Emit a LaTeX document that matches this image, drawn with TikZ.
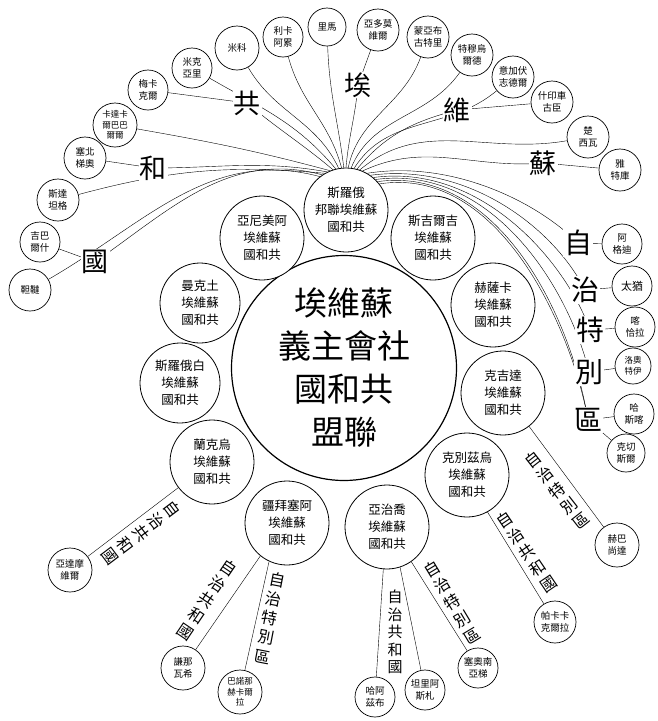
\documentclass[tikz,border=0pt]{standalone}
\usepackage{fontspec}
\newfontfamily\cjk{Noto Sans CJK TC}
\usetikzlibrary{backgrounds}

\begin{document}
\begin{tikzpicture}[x=1pt, y=1pt,
    rep/.style={draw, circle, fill=white, minimum size=84pt, inner sep=0pt, align=center, line width=0.8pt, font=\cjk\fontsize{12.5}{17}\selectfont},
    sub/.style={draw, circle, fill=white, minimum size=42pt, inner sep=0pt, align=center, line width=0.7pt, font=\cjk\fontsize{9.5}{12}\selectfont},
    bigch/.style={fill=white, inner sep=1pt, font=\cjk\fontsize{27}{27}\selectfont},
    lbl/.style={align=center, inner sep=0pt, font=\cjk\fontsize{16}{19.5}\selectfont},
    link/.style={line width=0.5pt}]
    \useasboundingbox (0,0) rectangle (658,-721);

    % centre
    \node[draw, circle, fill=white, minimum size=225pt, line width=1.2pt, align=center, font=\cjk\fontsize{33}{43}\selectfont] (ussr) at (344,-368) {埃維蘇\\義主會社\\國和共\\盟聯};

    % union republics
    \node[rep] (rus) at (346,-210) {斯羅俄\\邦聯埃維蘇\\國和共};
    \node[rep] (kir) at (433,-238) {斯吉爾吉\\埃維蘇\\國和共};
    \node[rep] (kaz) at (493,-305) {赫薩卡\\埃維蘇\\國和共};
    \node[rep] (taj) at (503,-393) {克吉達\\埃維蘇\\國和共};
    \node[rep] (uzb) at (467,-475) {克別茲烏\\埃維蘇\\國和共};
    \node[rep] (geo) at (387,-527) {亞治喬\\埃維蘇\\國和共};
    \node[rep] (aze) at (287,-523) {疆拜塞阿\\埃維蘇\\國和共};
    \node[rep] (ukr) at (212,-462) {蘭克烏\\埃維蘇\\國和共};
    \node[rep, minimum size=80pt] (blr) at (180,-383) {斯羅俄白\\埃維蘇\\國和共};
    \node[rep, minimum size=80pt] (tkm) at (200,-303) {曼克土\\埃維蘇\\國和共};
    \node[rep] (arm) at (262,-238) {亞尼美阿\\埃維蘇\\國和共};

    % big letters of the arc
    \node[bigch] (guo) at (95,-262) {國};
    \node[bigch] (he) at (153,-168) {和};
    \node[bigch] (gong) at (247,-103) {共};
    \node[bigch] (ai) at (358,-85) {埃};
    \node[bigch] (wei) at (457,-110) {維};
    \node[bigch] (su) at (543,-163) {蘇};

    % right column
    \node[bigch, font=\cjk\fontsize{28}{28}\selectfont] (zi) at (578,-243) {自};
    \node[bigch, font=\cjk\fontsize{28}{28}\selectfont] (zhi) at (585,-290) {治};
    \node[bigch, font=\cjk\fontsize{28}{28}\selectfont] (te) at (590,-330) {特};
    \node[bigch, font=\cjk\fontsize{28}{28}\selectfont] (bie) at (589,-372) {別};
    \node[bigch, font=\cjk\fontsize{28}{28}\selectfont] (qu) at (588,-420) {區};

    % arc of small circles
    \node[sub] (t1) at (30,-290) {靼韃};
    \node[sub, minimum size=40pt] (t2) at (40,-242) {吉巴\\爾什};
    \node[sub] (t3) at (58,-200) {斯達\\坦格};
    \node[sub] (t4) at (85,-158) {塞北\\梯奧};
    \node[sub, minimum size=44pt, font=\cjk\fontsize{8.5}{10.5}\selectfont] (t5) at (115,-125) {卡達卡\\爾巴巴\\爾爾};
    \node[sub, minimum size=40pt] (t6) at (148,-90) {梅卡\\克爾};
    \node[sub, minimum size=40pt] (t7) at (192,-68) {米克\\亞里};
    \node[sub, minimum size=44pt] (t8) at (237,-48) {米科};
    \node[sub, minimum size=40pt] (t9) at (283,-37) {利卡\\阿累};
    \node[sub, minimum size=38pt] (t10) at (327,-27) {里馬};
    \node[sub] (t11) at (378,-30) {亞多莫\\維爾};
    \node[sub] (t12) at (428,-37) {蒙亞布\\古特里};
    \node[sub] (t13) at (472,-55) {特穆烏\\爾德};
    \node[sub] (t14) at (513,-77) {意加伏\\志德爾};
    \node[sub] (t15) at (552,-102) {什印車\\古臣};
    \node[sub] (t16) at (588,-137) {楚\\西瓦};
    \node[sub] (t17) at (620,-170) {雅\\特庫};

    % right circles
    \node[sub, minimum size=40pt] (r1) at (622,-244) {阿\\格迪};
    \node[sub, minimum size=40pt, font=\cjk\fontsize{11}{13}\selectfont] (r2) at (632,-286) {太猶};
    \node[sub, minimum size=40pt] (r3) at (635,-327) {喀\\恰拉};
    \node[sub, minimum size=36pt, font=\cjk\fontsize{8.5}{10.5}\selectfont] (r4) at (633,-366) {洛奧\\特伊};
    \node[sub, minimum size=40pt] (r5) at (634,-414) {哈\\斯喀};
    \node[sub, minimum size=38pt] (r6) at (626,-453) {克切\\斯爾};

    % circles below
    \node[sub, minimum size=44pt] (mol) at (70,-570) {亞達摩\\維爾};
    \node[sub, minimum size=40pt] (abk) at (375,-697) {哈阿\\茲布};
    \node[sub, minimum size=40pt] (adj) at (425,-690) {坦里阿\\斯札};
    \node[sub, minimum size=40pt] (sos) at (478,-668) {塞奧南\\亞梯};
    \node[sub, minimum size=44pt] (nak) at (183,-668) {謙那\\瓦希};
    \node[sub, minimum size=44pt, font=\cjk\fontsize{8.5}{10.5}\selectfont] (nk) at (240,-692) {巴諾那\\赫卡爾\\拉};
    \node[sub] (kk) at (555,-622) {帕卡卡\\克爾拉};
    \node[sub, minimum size=44pt] (gb) at (617,-545) {赫巴\\尚達};

    % labels on the branches
    \node[lbl, rotate=-53] (lukr) at (141,-533) {自\\治\\共\\和\\國};
    \node[lbl, rotate=-34] (lnak) at (207,-600) {自\\治\\共\\和\\國};
    \node[lbl, rotate=-11] (lnk) at (270,-618) {自\\治\\特\\別\\區};
    \node[lbl, font=\cjk\fontsize{15}{17.5}\selectfont] (labk) at (395,-632) {自\\治\\共\\和\\國};
    \node[lbl, rotate=31] (lsos) at (452,-602) {自\\治\\特\\別\\區};
    \node[lbl, rotate=34] (lkk) at (527,-552) {自\\治\\共\\和\\國};
    \node[lbl, rotate=38] (lgb) at (557,-490) {自\\治\\特\\別\\區};

    \begin{scope}[on background layer, link]
        % fan from the top
        \draw (rus.128) to[out=165, in=30] (t1);
        \draw (rus.124) to[out=165, in=35] (guo.center) -- (t2);
        \draw (rus.120) to[out=175, in=15] (t3);
        \draw (rus.116) to[out=170, in=0] (he.center) -- (t4);
        \draw (rus.112) to[out=165, in=-10] (t5);
        \draw (rus.108) to[out=140, in=-40] (gong.center) -- (t6);
        \draw (rus.104) to[out=130, in=-30] (t7);
        \draw (rus.100) to[out=115, in=-60] (t8);
        \draw (rus.96) to[out=105, in=-75] (t9);
        \draw (rus.93) to[out=97, in=-88] (t10);
        \draw (rus.90) to[out=85, in=-95] (ai.center) -- (t11);
        \draw (rus.87) to[out=78, in=-110] (t12);
        \draw (rus.83) to[out=68, in=-125] (t13);
        \draw (rus.79) to[out=58, in=-140] (t14);
        \draw (rus.75) to[out=50, in=195] (wei.center) -- (t15);
        \draw (rus.71) to[out=40, in=-170] (t16);
        \draw (rus.67) to[out=25, in=185] (su.center) -- (t17);
        % right column
        \draw (rus.60) .. controls (450,-160) and (535,-200) .. (zi.center) -- (r1);
        \draw (rus.55) .. controls (470,-162) and (555,-230) .. (zhi.center) -- (r2);
        \draw (rus.50) .. controls (480,-163) and (565,-260) .. (te.center) -- (r3);
        \draw (rus.46) .. controls (490,-164) and (568,-285) .. (bie.center) -- (r4);
        \draw (rus.42) .. controls (495,-165) and (570,-310) .. (qu.center) -- (r5);
        \draw (rus.38) .. controls (500,-165) and (572,-330) .. (qu.center) -- (r6);
        % branches below
        \draw (ukr) -- (mol);
        \draw (geo.-95) -- (abk);
        \draw (geo.-72) -- (adj);
        \draw (geo.-55) -- (sos);
        \draw (aze.-129) -- (nak);
        \draw (aze.-115) -- (nk);
        \draw (uzb.-61) -- (kk);
        \draw (taj.-52) -- (gb);
    \end{scope}
\end{tikzpicture}
\end{document}
